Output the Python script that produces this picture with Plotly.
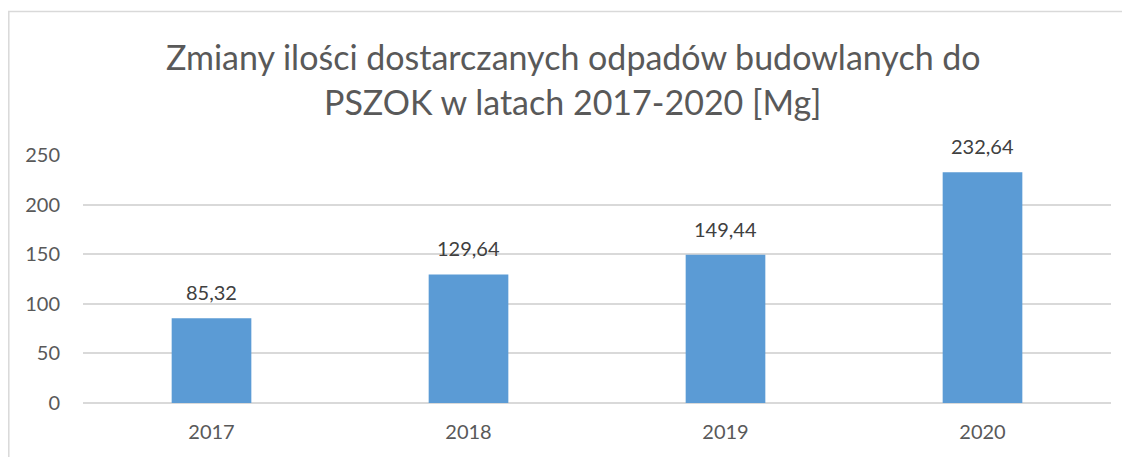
import plotly.graph_objects as go

years = ["2017", "2018", "2019", "2020"]
values = [85.32, 129.64, 149.44, 232.64]
y_ticks = [0, 50, 100, 150, 200, 250]
title_lines = ["Zmiany ilości dostarczanych odpadów budowlanych do",
               "PSZOK w latach 2017-2020 [Mg]"]

FONT = "Lato, Open Sans, sans-serif"
OFF = 8  # default page body margin
W, H = 1130 - OFF, 457 - OFF
L, R, T, B = 83 - OFF, 19, 155 - OFF, 54
pw, ph = W - L - R, H - T - B

def px_x(x):
    return (x - OFF - L) / pw

def px_y(y):
    return (H - B - (y - OFF)) / ph

fig = go.Figure()
fig.add_trace(go.Bar(
    x=years, y=values,
    marker=dict(color="#5B9BD5", line=dict(width=0)),
    width=0.31,
    hoverinfo="skip",
))

annotations = []
for i, v in enumerate(values):
    annotations.append(dict(
        x=i, y=v, xref="x", yref="y",
        text=f"{v:.2f}".replace(".", ","),
        showarrow=False, yanchor="bottom", yshift=12,
        font=dict(family=FONT, size=20, color="#404040"),
    ))

for line, ypix in zip(title_lines, [57, 101]):
    annotations.append(dict(
        x=px_x(573), y=px_y(ypix),
        xref="paper", yref="paper",
        text=line, showarrow=False, xanchor="center", yanchor="middle",
        font=dict(family=FONT, size=34, color="#595959"),
    ))

fig.update_layout(
    width=W, height=H,
    margin=dict(l=L, r=R, t=T, b=B, pad=0, autoexpand=False),
    paper_bgcolor="white", plot_bgcolor="white",
    showlegend=False,
    annotations=annotations,
    shapes=[dict(type="rect", xref="paper", yref="paper",
                 x0=px_x(8.8), x1=px_x(1160), y0=px_y(480), y1=px_y(11.5),
                 line=dict(color="#D9D9D9", width=1.5), fillcolor="rgba(0,0,0,0)",
                 layer="below")],
    xaxis=dict(
        type="category", automargin=False, range=[-0.5, 3.5],
        showgrid=False, zeroline=False, showline=False,
        tickfont=dict(family=FONT, size=20, color="#595959"),
        ticks="", ticklabelstandoff=15,
    ),
    yaxis=dict(
        range=[0, 250], tickvals=y_ticks, automargin=False,
        showgrid=True, gridcolor="#D9D9D9", gridwidth=1.5,
        zeroline=True, zerolinecolor="#D9D9D9", zerolinewidth=1.5,
        showline=False, ticks="",
        tickfont=dict(family=FONT, size=20, color="#595959"),
        ticklabelstandoff=22,
    ),
)

fig.write_html("out.html")
